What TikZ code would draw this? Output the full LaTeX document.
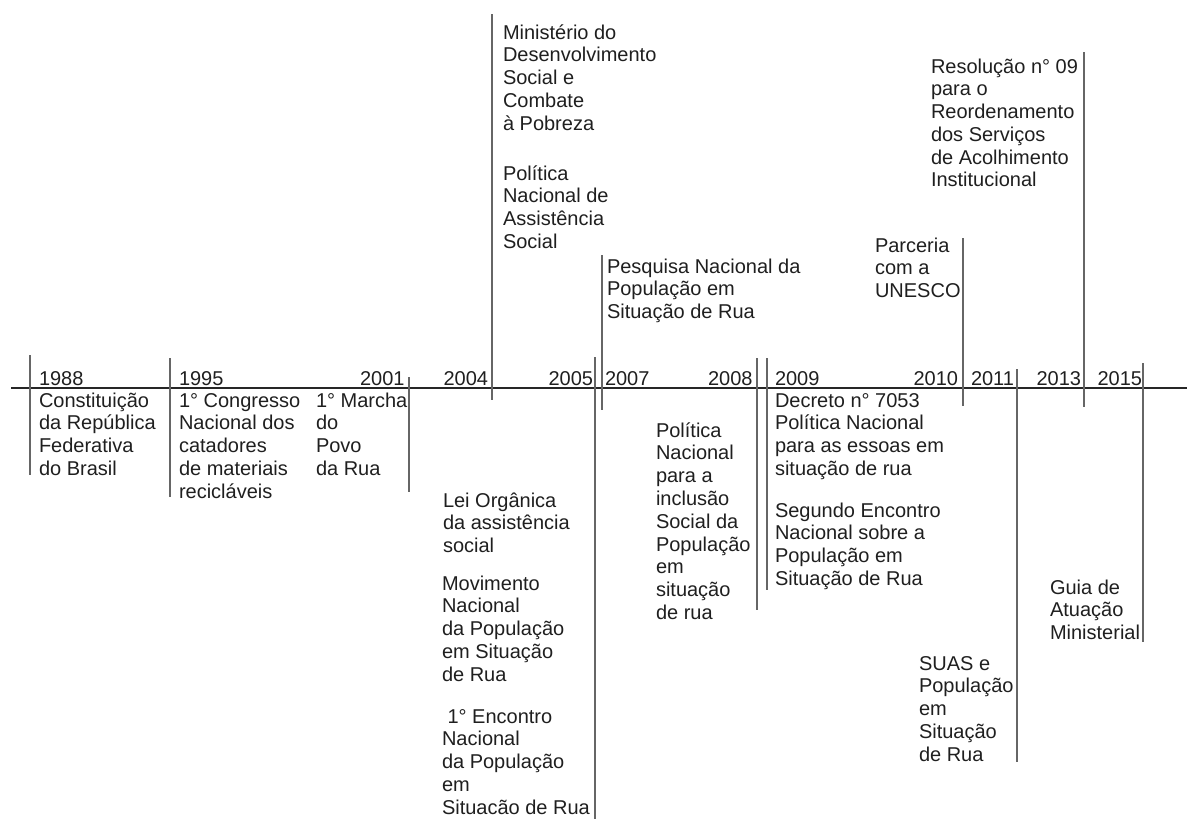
\documentclass[tikz,border=0pt]{standalone}
\usepackage{fontspec}
\setmainfont{Liberation Sans}
\newcommand{\evlines}[1]{\begin{tabular}[t]{@{}l@{}}#1\end{tabular}}
\tikzset{
  lbl/.style={inner sep=0pt, outer sep=0pt, text=black!88, font=\fontsize{20}{22.8}\selectfont},
  ev/.style={lbl, anchor=base west},
  yrL/.style={lbl, anchor=base west},
  yrR/.style={lbl, anchor=base east},
  axisline/.style={line width=1.8pt, draw=black!85},
  tick/.style={line width=1.2pt, draw=black!60},
}
\begin{document}
\begin{tikzpicture}[x=1pt, y=-1pt]
\useasboundingbox (0,0) rectangle (1187,819);
% axis
\coordinate (axL) at (11,388);
\coordinate (axR) at (1187,388);
\draw[axisline] (axL) -- (axR);
% tick lines
\foreach \n/\x/\t/\b in {a/30/355/475, b/170/358/497, c/409/377/492, d/492/14/400,
  e/595/357/819, f/602/255/410, g/757/358/610, h/767/358/590, i/963/238/406,
  j/1017/369/762, k/1084/52/407, l/1143/363/642}{
  \coordinate (t\n) at (\x,\t);
  \coordinate (u\n) at (\x,\b);
  \draw[tick] (t\n) -- (u\n);
}
% years
\node[yrL] (y1988) at (39,385) {1988};
\node[yrL] (y1995) at (179,385) {1995};
\node[yrR] (y2001) at (404.5,385) {2001};
\node[yrR] (y2004) at (488,385) {2004};
\node[yrR] (y2005) at (593,385) {2005};
\node[yrL] (y2007) at (605,385) {2007};
\node[yrR] (y2008) at (752.5,385) {2008};
\node[yrL] (y2009) at (775,385) {2009};
\node[yrR] (y2010) at (958,385) {2010};
\node[yrL] (y2011) at (971,385) {2011};
\node[yrR] (y2013) at (1081,385) {2013};
\node[yrR] (y2015) at (1142,385) {2015};
% events
\node[ev] (eA) at (39,407) {\evlines{Constituição\\da República\\Federativa\\do Brasil}};
\node[ev] (eB) at (179,407) {\evlines{1° Congresso\\Nacional dos\\catadores\\de materiais\\recicláveis}};
\node[ev] (eC) at (316,407) {\evlines{1° Marcha\\do\\Povo\\da Rua}};
\node[ev] (eD) at (503,39) {\evlines{Ministério do\\Desenvolvimento\\Social e\\Combate\\à Pobreza}};
\node[ev] (eE) at (503,180) {\evlines{Política\\Nacional de\\Assistência\\Social}};
\node[ev] (eF) at (443,507) {\evlines{Lei Orgânica\\da assistência\\social}};
\node[ev] (eG) at (442,590) {\evlines{Movimento\\Nacional\\da População\\em Situação\\de Rua}};
\node[ev] (eH) at (442,723) {\evlines{~1° Encontro\\Nacional\\da População\\em\\Situacão de Rua}};
\node[ev] (eI) at (607,273) {\evlines{Pesquisa Nacional da\\População em\\Situação de Rua}};
\node[ev] (eJ) at (656,437) {\evlines{Política\\Nacional\\para a\\inclusão\\Social da\\População\\em\\situação\\de rua}};
\node[ev] (eK) at (775,407) {\evlines{Decreto n° 7053\\Política Nacional\\para as essoas em\\situação de rua}};
\node[ev] (eL) at (775,517) {\evlines{Segundo Encontro\\Nacional sobre a\\População em\\Situação de Rua}};
\node[ev] (eM) at (875,252) {\evlines{Parceria\\com a\\UNESCO}};
\node[ev] (eN) at (931,73) {\evlines{Resolução n° 09\\para o\\Reordenamento\\dos Serviços\\de Acolhimento\\Institucional}};
\node[ev] (eO) at (919,670) {\evlines{SUAS e\\População\\em\\Situação\\de Rua}};
\node[ev] (eP) at (1050,594) {\evlines{Guia de\\Atuação\\Ministerial}};
\end{tikzpicture}
\end{document}
